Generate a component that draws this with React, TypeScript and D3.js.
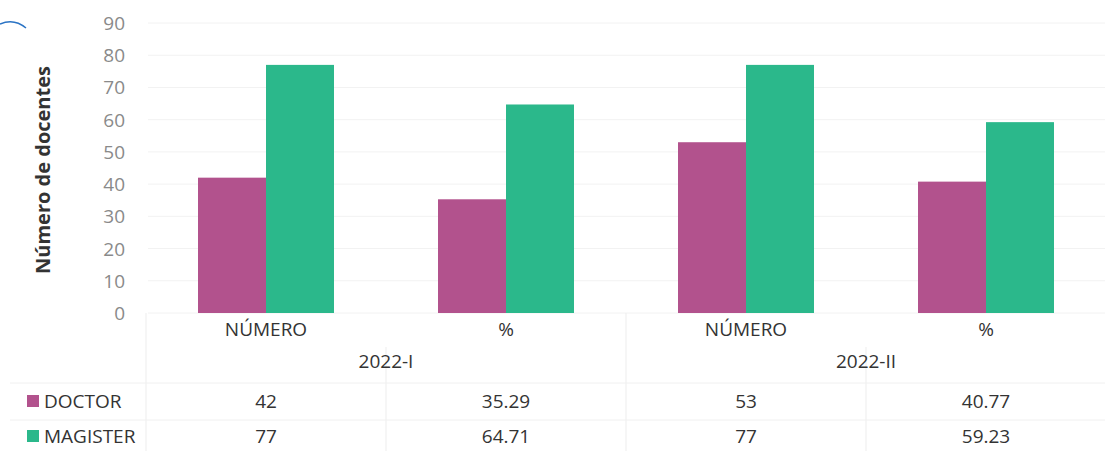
import React from "react";
import * as d3 from "d3";

const periods = ["2022-I", "2022-II"];
const measures = ["NÚMERO", "%"];
const categories = ["2022-I|NÚMERO", "2022-I|%", "2022-II|NÚMERO", "2022-II|%"];
const seriesNames = ["DOCTOR", "MAGISTER"];
const doctorValues = [42, 35.29, 53, 40.77];
const magisterValues = [77, 64.71, 77, 59.23];
const yTicks = [0, 10, 20, 30, 40, 50, 60, 70, 80, 90];
const colors = ["#b2528d", "#2bb88b"];

const W = 1105;
const H = 451;
const FONT = "'Open Sans', 'Noto Sans', sans-serif";

export default function App() {
  const x = d3.scaleBand<string>().domain(categories).range([146, 1106]);
  const inner = d3
    .scaleBand<string>()
    .domain(seriesNames)
    .range([0, x.bandwidth()])
    .paddingInner(0)
    .paddingOuter(0.765);
  const y = d3.scaleLinear().domain([0, 90]).range([313, 23]);
  const values = [doctorValues, magisterValues];

  const rowY = [401, 436];
  const tableTop = 313;

  return (
    <svg
      width={W}
      height={H}
      style={{ position: "absolute", left: 0, top: 0, background: "#fff" }}
      fontFamily={FONT}
    >
      <path d="M0,24 Q14,18 26,28" stroke="#2a73c4" strokeWidth={1.5} fill="none" />
      {/* gridlines */}
      {yTicks.map((t) => (
        <line key={"g" + t} x1={148} x2={W} y1={y(t)} y2={y(t)} stroke="#f2f2f2" strokeWidth={1} />
      ))}
      {/* y tick labels */}
      {yTicks.map((t) => (
        <text
          key={"t" + t}
          x={125}
          y={y(t)}
          textAnchor="end"
          dominantBaseline="central"
          fontSize={19}
          fill="#8a8a8a"
        >
          {t}
        </text>
      ))}
      <text
        transform={`translate(42,${170}) rotate(-90)`}
        textAnchor="middle"
        dominantBaseline="central"
        fontSize={20}
        fontWeight="bold"
        fill="#333"
      >
        Número de docentes
      </text>
      {/* table lines */}
      {categories.map((c, i) => (
        <line
          key={"v" + c}
          x1={x(c)!}
          x2={x(c)!}
          y1={i % 2 === 0 ? tableTop : tableTop + 34}
          y2={H}
          stroke="#ededed"
        />
      ))}
      {[383, 420].map((yy) => (
        <line key={"h" + yy} x1={10} x2={W} y1={yy} y2={yy} stroke="#f0f0f0" />
      ))}
      {/* bars */}
      {values.map((vals, s) =>
        vals.map((v, i) => (
          <rect
            key={s + "-" + i}
            x={x(categories[i])! + inner(seriesNames[s])!}
            y={y(v)}
            width={inner.bandwidth()}
            height={y(0) - y(v)}
            fill={colors[s]}
          />
        ))
      )}
      {/* category labels */}
      {categories.map((c, i) => (
        <text
          key={"c" + c}
          x={x(c)! + x.bandwidth() / 2}
          y={329}
          textAnchor="middle"
          dominantBaseline="central"
          fontSize={19}
          fill="#333"
        >
          {measures[i % 2]}
        </text>
      ))}
      {periods.map((p, i) => (
        <text
          key={"p" + p}
          x={x(categories[i * 2 + 1])!}
          y={361}
          textAnchor="middle"
          dominantBaseline="central"
          fontSize={19}
          fill="#333"
        >
          {p}
        </text>
      ))}
      {/* legend rows */}
      {seriesNames.map((n, s) => (
        <g key={"l" + n}>
          <rect x={27} y={rowY[s] - 6} width={12} height={12} fill={colors[s]} />
          <text x={44} y={rowY[s]} dominantBaseline="central" fontSize={19} fill="#333">
            {n}
          </text>
          {values[s].map((v, i) => (
            <text
              key={i}
              x={x(categories[i])! + x.bandwidth() / 2}
              y={rowY[s]}
              textAnchor="middle"
              dominantBaseline="central"
              fontSize={19}
              fill="#333"
            >
              {v}
            </text>
          ))}
        </g>
      ))}
    </svg>
  );
}
